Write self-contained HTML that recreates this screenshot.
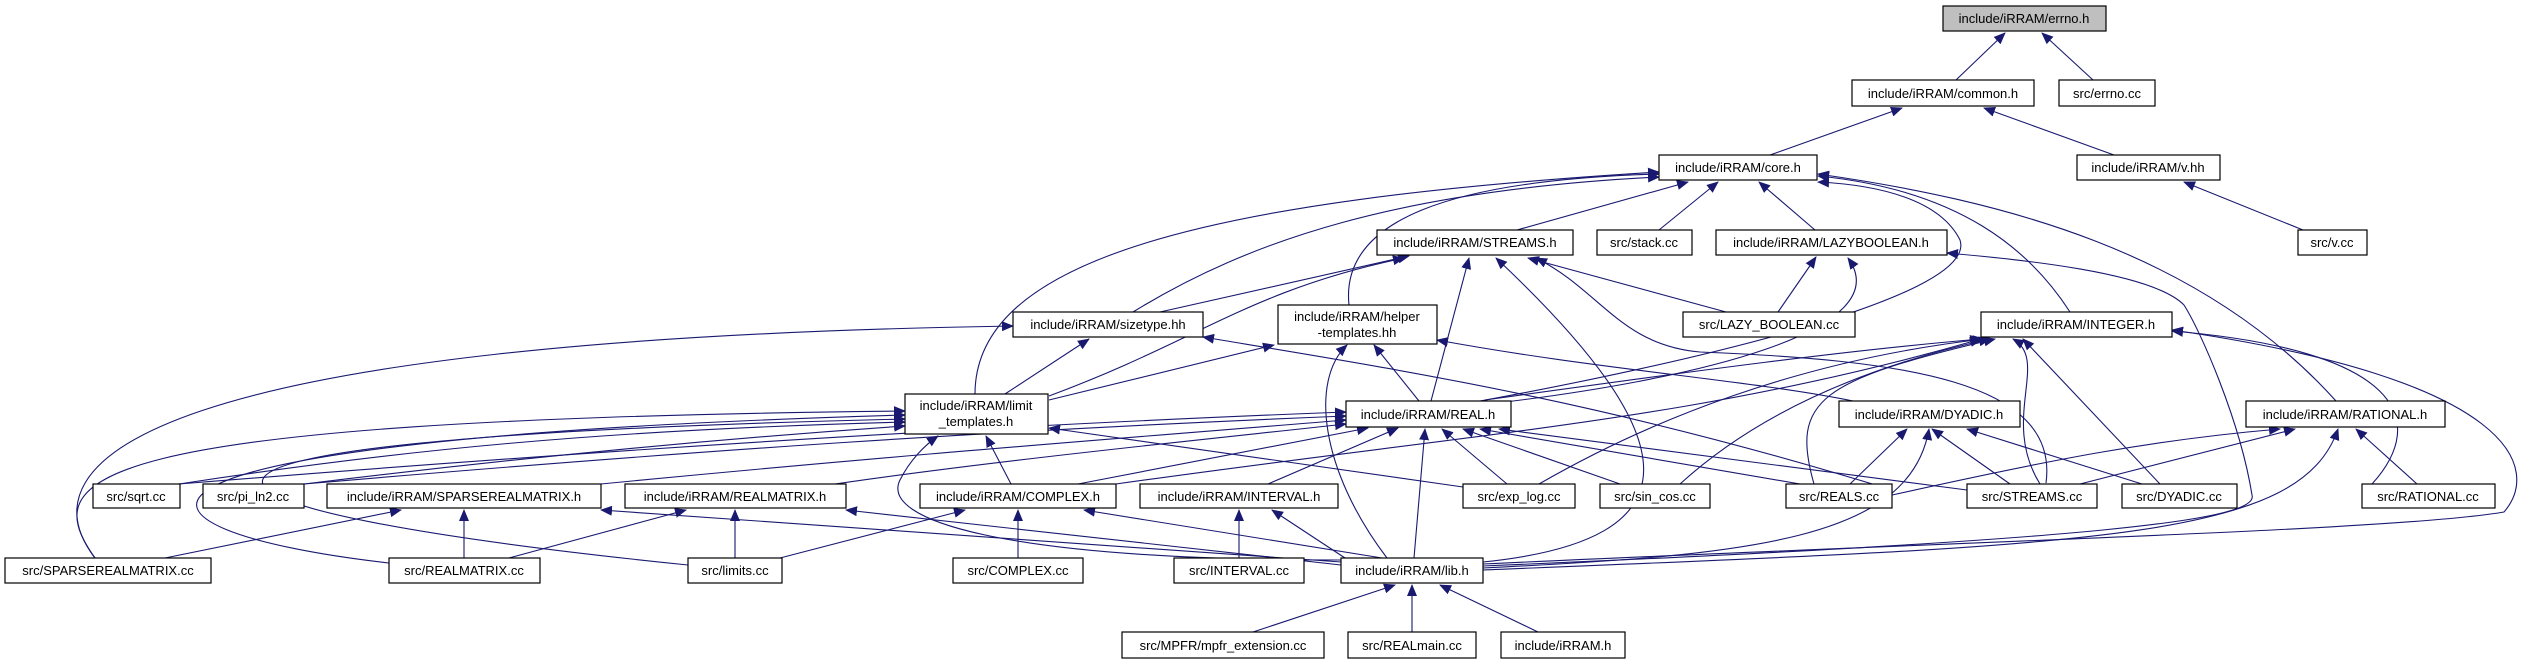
<!DOCTYPE html>
<html><head><meta charset="utf-8"><style>
html,body{margin:0;padding:0;background:#fff;}
svg{display:block;}
text{font-family:"Liberation Sans",Helvetica,sans-serif;font-size:13px;fill:#000;}
.n{fill:#fff;stroke:#000;stroke-width:1.2;}
.e{fill:none;stroke:#191970;stroke-width:1.1;marker-end:url(#a);}
</style></head><body>
<svg width="2530" height="664" viewBox="0 0 2530 664" xmlns="http://www.w3.org/2000/svg">
<defs><marker id="a" markerUnits="userSpaceOnUse" markerWidth="12" markerHeight="10" viewBox="0 0 12 10" refX="11" refY="5" orient="auto"><path d="M0,0 L12,5 L0,10 z" fill="#191970"/></marker></defs>
<g>
<path class="e" d="M1956,80 L2005,33"/>
<path class="e" d="M2093,80 L2042,33"/>
<path class="e" d="M1770,155 L1902,108"/>
<path class="e" d="M2114,155 L1984,108"/>
<path class="e" d="M2303,230 L2184,182"/>
<path class="e" d="M1815,230 L1759,182"/>
<path class="e" d="M1659,230 L1718,182"/>
<path class="e" d="M1517,230 L1688,182"/>
<path class="e" d="M1133,312 C1250,240 1400,190 1659,177"/>
<path class="e" d="M975,394 C975,260 1200,200 1659,172"/>
<path class="e" d="M1349,305 C1340,220 1450,180 1659,174"/>
<path class="e" d="M2070,312 C2030,250 1960,190 1818,176"/>
<path class="e" d="M2336,401 C2200,250 2000,200 1818,174"/>
<path class="e" d="M1480,401 C1650,370 1980,300 1960,240 C1940,200 1880,185 1818,182"/>
<path class="e" d="M1778,312 L1816,257"/>
<path class="e" d="M1726,312 L1528,258"/>
<path class="e" d="M1480,405 C1700,380 1900,330 1848,258"/>
<path class="e" d="M1483,566 C2100,540 2260,520 2252,495 C2240,420 2200,330 2184,305 C2150,270 2000,258 1947,253"/>
<path class="e" d="M1431,401 L1469,258"/>
<path class="e" d="M1483,562 C1700,540 1690,440 1496,258"/>
<path class="e" d="M2046,483 C2060,380 1900,360 1700,352 C1620,345 1600,290 1536,258"/>
<path class="e" d="M1160,312 L1409,256"/>
<path class="e" d="M1049,396 C1200,340 1250,290 1404,258"/>
<path class="e" d="M1005,394 L1089,339"/>
<path class="e" d="M1049,400 L1274,345"/>
<path class="e" d="M1419,401 L1374,345"/>
<path class="e" d="M1387,558 C1320,470 1310,380 1347,345"/>
<path class="e" d="M1853,401 C1750,380 1600,370 1437,340"/>
<path class="e" d="M1892,490 C1600,400 1400,370 1203,337"/>
<path class="e" d="M95,558 C40,480 60,420 905,411"/>
<path class="e" d="M389,563 C100,530 40,440 905,415"/>
<path class="e" d="M688,565 C150,510 20,440 905,419"/>
<path class="e" d="M95,558 C20,460 150,340 1013,326"/>
<path class="e" d="M179,484 C400,450 600,430 905,422"/>
<path class="e" d="M304,484 C500,460 700,440 905,426"/>
<path class="e" d="M179,484 C600,450 1000,425 1346,412"/>
<path class="e" d="M304,484 C700,450 1000,430 1346,416"/>
<path class="e" d="M601,484 C900,455 1100,440 1346,420"/>
<path class="e" d="M835,484 C1000,460 1200,440 1346,424"/>
<path class="e" d="M1011,484 L986,436"/>
<path class="e" d="M1078,484 L1368,428"/>
<path class="e" d="M1116,484 C1500,430 1700,420 1981,339"/>
<path class="e" d="M1268,484 L1398,428"/>
<path class="e" d="M1414,558 L1425,429"/>
<path class="e" d="M1341,560 C1000,560 880,520 900,480 C910,460 925,445 938,436"/>
<path class="e" d="M1382,558 L1084,510"/>
<path class="e" d="M1345,558 L1272,510"/>
<path class="e" d="M1341,562 L601,510"/>
<path class="e" d="M1341,565 L846,510"/>
<path class="e" d="M1018,558 L1018,510"/>
<path class="e" d="M1239,558 L1239,510"/>
<path class="e" d="M780,558 L965,510"/>
<path class="e" d="M735,558 L735,510"/>
<path class="e" d="M509,558 L686,510"/>
<path class="e" d="M464,558 L464,510"/>
<path class="e" d="M165,558 L401,510"/>
<path class="e" d="M1463,487 L1049,428"/>
<path class="e" d="M1507,484 L1442,429"/>
<path class="e" d="M1539,484 C1650,420 1800,360 1984,339"/>
<path class="e" d="M1620,484 L1463,429"/>
<path class="e" d="M1680,484 C1750,420 1850,370 1990,339"/>
<path class="e" d="M1800,484 L1480,429"/>
<path class="e" d="M1967,490 L1499,429"/>
<path class="e" d="M1814,484 C1790,400 1820,380 1995,339"/>
<path class="e" d="M2040,484 C2000,420 2050,360 2013,339"/>
<path class="e" d="M2160,484 L2023,339"/>
<path class="e" d="M2372,484 C2430,420 2400,350 2172,331"/>
<path class="e" d="M1483,564 C2000,540 2400,530 2504,512 C2540,470 2520,380 2172,330"/>
<path class="e" d="M1485,400 C1700,370 1850,350 1981,339"/>
<path class="e" d="M1850,484 L1907,429"/>
<path class="e" d="M2010,484 L1932,429"/>
<path class="e" d="M2142,484 L1967,429"/>
<path class="e" d="M1483,568 C1750,555 1910,540 1929,429"/>
<path class="e" d="M1892,495 C2050,460 2150,440 2280,429"/>
<path class="e" d="M2080,484 L2295,429"/>
<path class="e" d="M2417,484 L2356,429"/>
<path class="e" d="M1483,570 C2100,545 2300,540 2338,429"/>
<path class="e" d="M1253,632 L1395,585"/>
<path class="e" d="M1412,632 L1412,585"/>
<path class="e" d="M1538,632 L1440,585"/>
</g>
<g>
<rect x="1943" y="6" width="163" height="25" fill="#bfbfbf" stroke="#000" stroke-width="1.2"/><text x="2024" y="23" text-anchor="middle">include/iRRAM/errno.h</text>
<rect class="n" x="1852" y="80" width="182" height="26"/><text x="1943" y="98" text-anchor="middle">include/iRRAM/common.h</text>
<rect class="n" x="2059" y="80" width="96" height="26"/><text x="2107" y="98" text-anchor="middle">src/errno.cc</text>
<rect class="n" x="1659" y="155" width="158" height="25"/><text x="1738" y="172" text-anchor="middle">include/iRRAM/core.h</text>
<rect class="n" x="2077" y="155" width="143" height="25"/><text x="2148" y="172" text-anchor="middle">include/iRRAM/v.hh</text>
<rect class="n" x="1377" y="230" width="196" height="25"/><text x="1475" y="247" text-anchor="middle">include/iRRAM/STREAMS.h</text>
<rect class="n" x="1597" y="230" width="95" height="25"/><text x="1644" y="247" text-anchor="middle">src/stack.cc</text>
<rect class="n" x="1716" y="230" width="231" height="25"/><text x="1831" y="247" text-anchor="middle">include/iRRAM/LAZYBOOLEAN.h</text>
<rect class="n" x="2298" y="230" width="69" height="25"/><text x="2332" y="247" text-anchor="middle">src/v.cc</text>
<rect class="n" x="1013" y="312" width="190" height="25"/><text x="1108" y="329" text-anchor="middle">include/iRRAM/sizetype.hh</text>
<rect class="n" x="1278" y="305" width="159" height="39"/><text x="1357" y="321" text-anchor="middle">include/iRRAM/helper</text><text x="1357" y="337" text-anchor="middle">-templates.hh</text>
<rect class="n" x="1683" y="312" width="172" height="25"/><text x="1769" y="329" text-anchor="middle">src/LAZY_BOOLEAN.cc</text>
<rect class="n" x="1981" y="312" width="191" height="25"/><text x="2076" y="329" text-anchor="middle">include/iRRAM/INTEGER.h</text>
<rect class="n" x="905" y="394" width="143" height="40"/><text x="976" y="410" text-anchor="middle">include/iRRAM/limit</text><text x="976" y="426" text-anchor="middle">_templates.h</text>
<rect class="n" x="1346" y="401" width="165" height="26"/><text x="1428" y="419" text-anchor="middle">include/iRRAM/REAL.h</text>
<rect class="n" x="1839" y="401" width="181" height="26"/><text x="1929" y="419" text-anchor="middle">include/iRRAM/DYADIC.h</text>
<rect class="n" x="2246" y="401" width="199" height="26"/><text x="2345" y="419" text-anchor="middle">include/iRRAM/RATIONAL.h</text>
<rect class="n" x="93" y="484" width="87" height="24"/><text x="136" y="501" text-anchor="middle">src/sqrt.cc</text>
<rect class="n" x="203" y="484" width="101" height="24"/><text x="253" y="501" text-anchor="middle">src/pi_ln2.cc</text>
<rect class="n" x="327" y="484" width="274" height="24"/><text x="464" y="501" text-anchor="middle">include/iRRAM/SPARSEREALMATRIX.h</text>
<rect class="n" x="625" y="484" width="221" height="24"/><text x="735" y="501" text-anchor="middle">include/iRRAM/REALMATRIX.h</text>
<rect class="n" x="920" y="484" width="196" height="24"/><text x="1018" y="501" text-anchor="middle">include/iRRAM/COMPLEX.h</text>
<rect class="n" x="1140" y="484" width="198" height="24"/><text x="1239" y="501" text-anchor="middle">include/iRRAM/INTERVAL.h</text>
<rect class="n" x="1463" y="484" width="112" height="24"/><text x="1519" y="501" text-anchor="middle">src/exp_log.cc</text>
<rect class="n" x="1600" y="484" width="110" height="24"/><text x="1655" y="501" text-anchor="middle">src/sin_cos.cc</text>
<rect class="n" x="1786" y="484" width="106" height="24"/><text x="1839" y="501" text-anchor="middle">src/REALS.cc</text>
<rect class="n" x="1967" y="484" width="130" height="24"/><text x="2032" y="501" text-anchor="middle">src/STREAMS.cc</text>
<rect class="n" x="2122" y="484" width="115" height="24"/><text x="2179" y="501" text-anchor="middle">src/DYADIC.cc</text>
<rect class="n" x="2362" y="484" width="133" height="24"/><text x="2428" y="501" text-anchor="middle">src/RATIONAL.cc</text>
<rect class="n" x="5" y="558" width="206" height="25"/><text x="108" y="575" text-anchor="middle">src/SPARSEREALMATRIX.cc</text>
<rect class="n" x="389" y="558" width="151" height="25"/><text x="464" y="575" text-anchor="middle">src/REALMATRIX.cc</text>
<rect class="n" x="688" y="558" width="94" height="25"/><text x="735" y="575" text-anchor="middle">src/limits.cc</text>
<rect class="n" x="953" y="558" width="130" height="25"/><text x="1018" y="575" text-anchor="middle">src/COMPLEX.cc</text>
<rect class="n" x="1174" y="558" width="130" height="25"/><text x="1239" y="575" text-anchor="middle">src/INTERVAL.cc</text>
<rect class="n" x="1341" y="558" width="142" height="25"/><text x="1412" y="575" text-anchor="middle">include/iRRAM/lib.h</text>
<rect class="n" x="1122" y="632" width="202" height="26"/><text x="1223" y="650" text-anchor="middle">src/MPFR/mpfr_extension.cc</text>
<rect class="n" x="1348" y="632" width="128" height="26"/><text x="1412" y="650" text-anchor="middle">src/REALmain.cc</text>
<rect class="n" x="1501" y="632" width="124" height="26"/><text x="1563" y="650" text-anchor="middle">include/iRRAM.h</text>
</g>
</svg>
</body></html>
